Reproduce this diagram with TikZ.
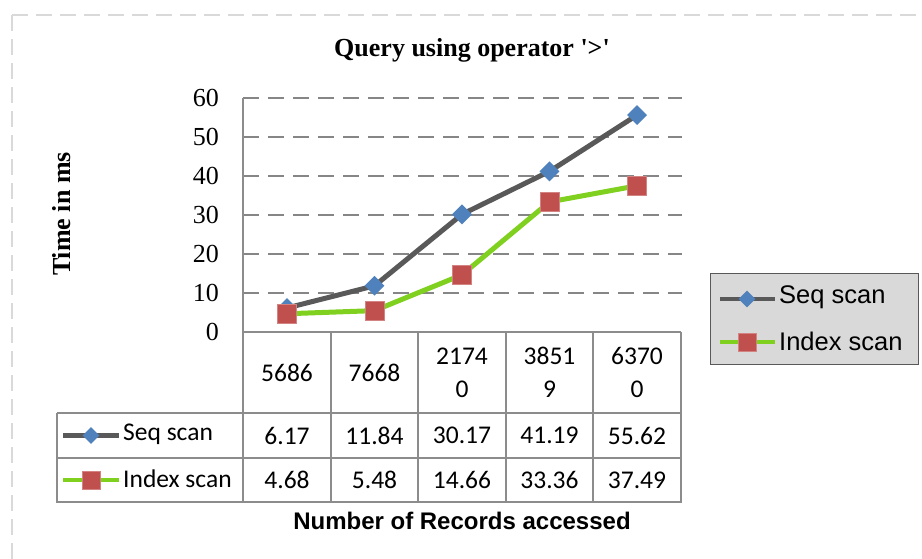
\documentclass[tikz,border=0pt]{standalone}
\usepackage{fontspec}
\setmainfont{Liberation Serif}
\newfontfamily\calibfont{Carlito}
\newfontfamily\arialfont{Liberation Sans}
\usetikzlibrary{shapes.geometric}
\definecolor{gridgray}{HTML}{868686}
\definecolor{tablegray}{HTML}{8C8C8C}
\definecolor{seqgray}{HTML}{595959}
\definecolor{idxgreen}{HTML}{80D020}
\definecolor{diamblue}{HTML}{4F81BD}
\definecolor{sqred}{HTML}{C0504D}
\definecolor{framegray}{HTML}{D9D9D9}
\definecolor{legfill}{HTML}{D9D9D9}
\tikzset{
  gridline/.style={draw=gridgray, line width=2.5pt, dash pattern=on 16pt off 9pt},
  tabline/.style={draw=tablegray, line width=2pt},
  seqline/.style={draw=seqgray, line width=5pt},
  idxline/.style={draw=idxgreen, line width=5pt},
  seqmark/.style={diamond, fill=diamblue, inner sep=0pt, minimum width=20pt, minimum height=20pt},
  idxmark/.style={rectangle, fill=sqred, draw=sqred!70!white, line width=0.6pt, inner sep=0pt, minimum width=19pt, minimum height=19pt},
  smallseqmark/.style={diamond, fill=diamblue, inner sep=0pt, minimum width=17pt, minimum height=17pt},
  smallidxmark/.style={rectangle, fill=sqred, draw=sqred!70!white, line width=0.6pt, inner sep=0pt, minimum width=18pt, minimum height=18pt},
  keyline/.style={line width=4.5pt},
  celltext/.style={font=\calibfont\fontsize{25.5}{33}\selectfont, align=center, inner sep=0pt},
  ytick/.style={font=\fontsize{26}{30}\selectfont, anchor=east, inner sep=0pt},
  legtext/.style={font=\arialfont\fontsize{25.5}{30}\selectfont, anchor=west, inner sep=0pt},
  tabkeytext/.style={font=\calibfont\fontsize{25.5}{30}\selectfont, anchor=west, inner sep=0pt},
  frameline/.style={draw=framegray, line width=2pt, dash pattern=on 16pt off 8pt}
}
\begin{document}
\begin{tikzpicture}[x=1pt,y=-1pt]
\useasboundingbox (0,0) rectangle (922,559);
% outer dashed frame
\draw[frameline] (12,15) -- (922,15);
\draw[frameline] (12,15) -- (12,559);
% title
\node[font=\bfseries\fontsize{26}{30}\selectfont, inner sep=0pt] (title) at (472,50) {Query using operator \textquotesingle>\textquotesingle};
% y axis title
\node[font=\bfseries\fontsize{26}{30}\selectfont, rotate=90, inner sep=0pt] (ytitle) at (62,214) {Time in ms};
% gridlines
\foreach \v in {10,20,30,40,50,60}{
  \draw[gridline] (243,{332-3.9*\v}) -- (682,{332-3.9*\v});
}
% y tick labels
\foreach \v in {0,10,20,30,40,50,60}{
  \node[ytick] (yt\v) at (219,{332-3.9*\v}) {\v};
}
% left axis
\draw[tabline] (243,98) -- (243,502);
% table
\draw[tabline] (243,332) -- (681,332);
\draw[tabline] (57,413) -- (681,413);
\draw[tabline] (57,458) -- (681,458);
\draw[tabline] (56,502) -- (682,502);
\draw[tabline] (57,413) -- (57,502);
\foreach \x in {331,418,506,593,681}{
  \draw[tabline] (\x,332) -- (\x,502);
}
% header cells
\node[celltext] (h1) at (287,372.5) {5686};
\node[celltext] (h2) at (374.5,372.5) {7668};
\node[celltext] (h3) at (462,372.5) {2174\\0};
\node[celltext] (h4) at (549.5,372.5) {3851\\9};
\node[celltext] (h5) at (637,372.5) {6370\\0};
% seq row
\node[celltext] (sv1) at (287,435.5) {6.17};
\node[celltext] (sv2) at (374.5,435.5) {11.84};
\node[celltext] (sv3) at (462,435.5) {30.17};
\node[celltext] (sv4) at (549.5,435.5) {41.19};
\node[celltext] (sv5) at (637,435.5) {55.62};
% index row
\node[celltext] (iv1) at (287,480) {4.68};
\node[celltext] (iv2) at (374.5,480) {5.48};
\node[celltext] (iv3) at (462,480) {14.66};
\node[celltext] (iv4) at (549.5,480) {33.36};
\node[celltext] (iv5) at (637,480) {37.49};
% table keys
\coordinate (tka) at (63,435.5);
\coordinate (tkb) at (119,435.5);
\draw[seqgray, keyline] (tka) -- (tkb);
\node[smallseqmark] (tkm1) at (91,435.5) {};
\node[tabkeytext] (tkt1) at (123,434) {Seq scan};
\coordinate (tkc) at (63,480);
\coordinate (tkd) at (119,480);
\draw[idxgreen, keyline] (tkc) -- (tkd);
\node[smallidxmark] (tkm2) at (91,480) {};
\node[tabkeytext] (tkt2) at (123,478.5) {Index scan};
% data points
\coordinate (s1) at (287,{332-3.9*6.17});
\coordinate (s2) at (374.5,{332-3.9*11.84});
\coordinate (s3) at (462,{332-3.9*30.17});
\coordinate (s4) at (549.5,{332-3.9*41.19});
\coordinate (s5) at (637,{332-3.9*55.62});
\coordinate (i1) at (287,{332-3.9*4.68});
\coordinate (i2) at (374.5,{332-3.9*5.48});
\coordinate (i3) at (462,{332-3.9*14.66});
\coordinate (i4) at (549.5,{332-3.9*33.36});
\coordinate (i5) at (637,{332-3.9*37.49});
\draw[seqline] (s1) -- (s2) -- (s3) -- (s4) -- (s5);
\foreach \p in {1,...,5}{\node[seqmark] (sm\p) at (s\p) {};}
\draw[idxline] (i1) -- (i2) -- (i3) -- (i4) -- (i5);
\foreach \p in {1,...,5}{\node[idxmark] (im\p) at (i\p) {};}
% x axis title
\node[font=\arialfont\bfseries\fontsize{24}{28}\selectfont, inner sep=0pt] (xtitle) at (462,521) {Number of Records accessed};
% legend
\node[draw=seqgray, line width=1pt, fill=legfill, minimum width=208pt, minimum height=91pt, inner sep=0pt] (legend) at (814,318.5) {};
\coordinate (lka) at (720,299);
\coordinate (lkb) at (775,299);
\draw[seqgray, keyline] (lka) -- (lkb);
\node[smallseqmark] (lm1) at (747,299) {};
\node[legtext] (lt1) at (779,297.5) {Seq scan};
\coordinate (lkc) at (720,342);
\coordinate (lkd) at (775,342);
\draw[idxgreen, keyline] (lkc) -- (lkd);
\node[smallidxmark] (lm2) at (747,342) {};
\node[legtext] (lt2) at (779,341) {Index scan};
\end{tikzpicture}
\end{document}
